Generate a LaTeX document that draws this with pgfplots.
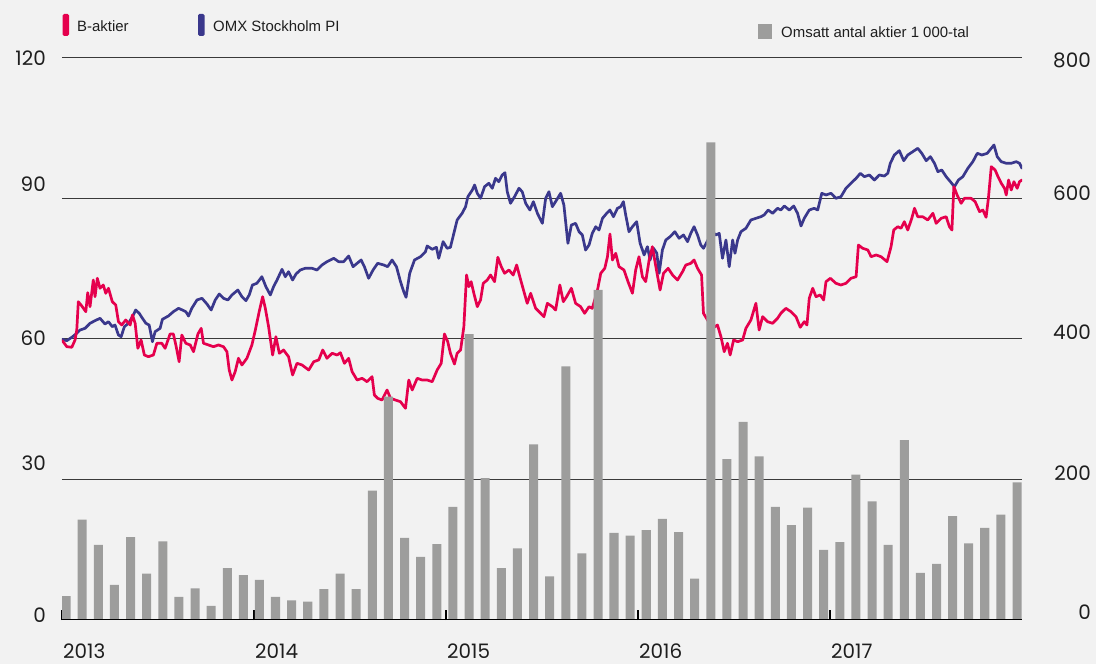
\documentclass[border=0pt]{standalone}
\usepackage{fontspec}
\usepackage{pgfplots}
\usepackage{pgfplotstable}
\pgfplotsset{compat=1.18}
\setmainfont{Liberation Sans}
\newfontfamily\tickfont{Poppins}
\definecolor{bg}{HTML}{F2F2F2}
\definecolor{bred}{HTML}{E5004D}
\definecolor{omx}{HTML}{3A388C}
\definecolor{bargray}{HTML}{9D9D9C}
\definecolor{gridc}{HTML}{3A3A3A}
\definecolor{txt}{HTML}{1E1E1E}

\pgfplotstableread{
x y
2013.002 59.64
2013.025 58.36
2013.051 58.23
2013.068 59.79
2013.077 61.92
2013.085 67.96
2013.103 67.05
2013.124 65.83
2013.134 69.89
2013.146 66.90
2013.163 72.60
2013.172 69.03
2013.184 72.96
2013.198 70.83
2013.215 71.53
2013.228 69.76
2013.242 70.83
2013.262 67.96
2013.280 67.26
2013.294 63.69
2013.311 62.99
2013.332 64.06
2013.355 62.99
2013.367 65.12
2013.381 63.35
2013.395 58.01
2013.412 59.79
2013.429 56.58
2013.450 56.22
2013.476 56.58
2013.494 59.08
2013.520 59.08
2013.537 58.01
2013.563 61.07
2013.580 61.07
2013.593 58.72
2013.610 55.15
2013.624 60.85
2013.645 59.08
2013.668 58.72
2013.685 57.29
2013.708 61.07
2013.725 62.28
2013.737 59.08
2013.763 58.72
2013.789 58.36
2013.815 58.72
2013.841 58.36
2013.859 57.29
2013.871 53.38
2013.885 51.24
2013.902 53.02
2013.919 55.88
2013.937 54.45
2013.963 55.88
2013.989 58.72
2014.007 61.92
2014.027 65.83
2014.045 69.03
2014.059 66.55
2014.076 62.63
2014.097 56.58
2014.114 60.49
2014.132 56.95
2014.154 57.65
2014.180 56.22
2014.201 52.31
2014.224 54.81
2014.250 54.45
2014.285 53.38
2014.311 55.15
2014.337 55.52
2014.358 57.65
2014.380 55.88
2014.407 56.95
2014.433 56.58
2014.450 57.07
2014.471 54.81
2014.493 55.88
2014.511 53.02
2014.537 51.24
2014.563 51.61
2014.589 50.88
2014.615 51.95
2014.627 48.04
2014.644 47.34
2014.667 46.97
2014.693 49.11
2014.711 47.34
2014.737 46.97
2014.763 46.61
2014.789 45.20
2014.806 51.24
2014.824 49.11
2014.850 51.61
2014.876 51.24
2014.902 51.24
2014.928 50.88
2014.954 53.38
2014.975 54.81
2014.992 61.07
2015.009 59.42
2015.023 56.95
2015.044 54.66
2015.058 56.95
2015.076 57.65
2015.093 62.63
2015.107 73.66
2015.119 71.17
2015.131 72.24
2015.145 69.76
2015.163 66.90
2015.180 68.33
2015.194 71.89
2015.215 72.60
2015.232 73.66
2015.253 72.24
2015.270 77.44
2015.288 75.44
2015.305 74.03
2015.328 74.73
2015.350 73.66
2015.368 75.80
2015.389 72.60
2015.406 70.10
2015.423 67.62
2015.441 69.76
2015.467 66.55
2015.493 65.49
2015.510 64.76
2015.528 67.62
2015.554 66.90
2015.571 66.19
2015.593 71.53
2015.611 67.96
2015.628 69.03
2015.653 70.83
2015.675 67.62
2015.701 66.90
2015.722 65.49
2015.745 66.90
2015.762 66.55
2015.789 70.46
2015.806 74.03
2015.827 75.10
2015.841 77.57
2015.854 82.42
2015.867 76.87
2015.884 78.30
2015.901 75.44
2015.927 74.73
2015.948 72.24
2015.971 69.76
2015.988 74.73
2016.005 77.57
2016.023 73.30
2016.040 72.24
2016.058 76.87
2016.075 79.71
2016.093 75.44
2016.115 70.46
2016.133 74.03
2016.157 75.10
2016.180 73.66
2016.206 72.60
2016.232 74.37
2016.249 75.80
2016.275 76.16
2016.292 76.87
2016.310 75.10
2016.331 73.66
2016.341 65.49
2016.388 62.28
2016.414 62.99
2016.432 60.49
2016.449 57.29
2016.466 59.08
2016.480 56.58
2016.498 59.79
2016.519 59.42
2016.545 59.79
2016.562 62.28
2016.588 64.06
2016.614 67.62
2016.631 61.92
2016.649 64.76
2016.675 63.69
2016.701 63.35
2016.727 64.42
2016.744 65.49
2016.770 66.55
2016.797 65.83
2016.823 64.76
2016.845 62.50
2016.866 63.69
2016.880 62.99
2016.892 68.69
2016.910 70.83
2016.927 69.03
2016.949 69.40
2016.967 68.33
2016.979 72.24
2017.002 72.96
2017.031 71.89
2017.057 71.53
2017.083 71.89
2017.109 72.96
2017.136 73.30
2017.148 80.07
2017.170 79.37
2017.197 79.00
2017.214 77.57
2017.240 77.94
2017.266 77.57
2017.297 76.51
2017.318 79.71
2017.332 83.27
2017.353 83.98
2017.370 83.64
2017.387 85.05
2017.405 83.27
2017.426 85.77
2017.440 87.91
2017.457 86.11
2017.483 86.11
2017.509 85.41
2017.536 86.84
2017.553 84.70
2017.579 85.77
2017.605 86.11
2017.622 83.98
2017.635 83.27
2017.645 92.52
2017.662 90.75
2017.683 88.97
2017.700 90.04
2017.735 90.04
2017.756 89.32
2017.779 87.18
2017.796 87.54
2017.813 85.99
2017.825 90.04
2017.840 96.79
2017.860 96.09
2017.875 94.66
2017.892 93.25
2017.909 92.18
2017.918 90.75
2017.930 93.95
2017.944 91.81
2017.958 93.59
2017.975 92.18
2017.987 93.59
2018.000 93.95
}\baktier

\pgfplotstableread{
x y
2013.002 59.94
2013.025 59.64
2013.051 60.36
2013.077 61.22
2013.094 61.92
2013.120 62.28
2013.146 63.35
2013.172 63.91
2013.198 64.42
2013.224 63.20
2013.242 63.69
2013.262 62.63
2013.276 62.99
2013.294 60.85
2013.308 60.49
2013.325 62.63
2013.346 63.35
2013.367 64.76
2013.384 66.19
2013.402 65.49
2013.419 64.42
2013.437 63.35
2013.454 62.99
2013.471 59.42
2013.485 61.56
2013.511 62.28
2013.523 64.20
2013.554 64.91
2013.580 65.83
2013.607 66.55
2013.627 66.19
2013.645 65.83
2013.659 64.91
2013.676 66.55
2013.703 68.33
2013.729 68.69
2013.755 67.47
2013.777 66.19
2013.798 68.33
2013.819 69.61
2013.841 68.69
2013.864 68.33
2013.885 69.40
2013.916 70.46
2013.937 69.03
2013.958 68.18
2013.975 69.40
2013.992 71.53
2014.015 71.89
2014.041 73.30
2014.062 71.17
2014.085 69.40
2014.102 71.17
2014.120 72.60
2014.146 74.88
2014.163 73.30
2014.180 74.37
2014.201 72.60
2014.219 73.88
2014.241 74.73
2014.267 75.10
2014.302 75.10
2014.328 74.73
2014.354 75.80
2014.380 76.51
2014.415 77.23
2014.441 76.51
2014.467 76.51
2014.493 77.72
2014.516 75.44
2014.537 76.16
2014.558 76.87
2014.575 75.44
2014.597 72.96
2014.620 74.73
2014.644 76.16
2014.676 75.80
2014.696 75.44
2014.719 76.87
2014.742 75.44
2014.763 72.24
2014.780 70.10
2014.792 68.90
2014.811 74.03
2014.836 76.87
2014.867 77.57
2014.893 78.64
2014.902 79.86
2014.928 79.15
2014.950 79.58
2014.962 77.23
2014.985 80.78
2015.006 79.37
2015.023 79.58
2015.041 82.57
2015.058 85.41
2015.084 86.84
2015.102 88.25
2015.114 90.38
2015.137 91.81
2015.149 92.88
2015.163 91.11
2015.180 90.04
2015.201 92.52
2015.223 93.25
2015.241 92.18
2015.258 94.31
2015.275 93.59
2015.293 95.02
2015.307 95.51
2015.319 91.45
2015.336 88.97
2015.357 90.38
2015.380 92.18
2015.397 91.45
2015.415 88.97
2015.437 87.54
2015.455 89.32
2015.476 86.84
2015.502 84.70
2015.519 90.04
2015.536 91.45
2015.554 88.25
2015.576 89.68
2015.597 91.11
2015.614 88.61
2015.635 80.43
2015.653 84.34
2015.675 84.70
2015.693 82.91
2015.710 82.21
2015.727 79.00
2015.745 80.07
2015.762 82.57
2015.780 83.98
2015.797 83.27
2015.815 85.77
2015.837 86.84
2015.854 87.54
2015.872 86.11
2015.893 87.91
2015.910 88.25
2015.924 89.32
2015.936 86.48
2015.953 82.91
2015.971 83.98
2015.993 85.05
2016.011 80.43
2016.032 77.94
2016.049 79.71
2016.063 76.87
2016.081 79.37
2016.098 78.30
2016.110 74.03
2016.127 79.00
2016.145 81.14
2016.167 81.84
2016.192 82.91
2016.214 81.50
2016.237 82.21
2016.258 80.78
2016.275 82.57
2016.292 83.98
2016.310 82.21
2016.327 80.07
2016.341 79.37
2016.388 82.91
2016.405 82.21
2016.423 82.57
2016.440 77.23
2016.458 81.14
2016.475 75.44
2016.493 81.14
2016.505 78.30
2016.519 81.14
2016.536 82.91
2016.562 83.64
2016.588 85.41
2016.614 85.77
2016.640 86.11
2016.657 86.48
2016.678 87.54
2016.701 86.84
2016.727 87.91
2016.744 87.54
2016.762 88.40
2016.788 87.54
2016.811 88.40
2016.831 86.84
2016.849 84.13
2016.866 85.77
2016.892 87.54
2016.918 87.91
2016.936 87.54
2016.957 91.11
2016.979 90.75
2017.005 91.11
2017.031 90.04
2017.057 90.38
2017.083 92.18
2017.109 93.25
2017.136 94.31
2017.158 95.38
2017.179 94.66
2017.205 95.02
2017.231 93.95
2017.257 95.02
2017.283 94.80
2017.301 95.38
2017.314 97.52
2017.335 99.29
2017.361 100.21
2017.384 98.07
2017.405 99.29
2017.431 99.99
2017.457 100.72
2017.478 99.65
2017.501 98.07
2017.523 98.93
2017.544 97.52
2017.562 95.72
2017.582 96.09
2017.605 94.66
2017.627 93.59
2017.648 92.52
2017.669 93.95
2017.692 94.66
2017.718 96.45
2017.744 97.86
2017.767 99.65
2017.791 99.29
2017.819 99.65
2017.840 100.72
2017.854 101.42
2017.871 98.93
2017.892 97.86
2017.918 97.52
2017.944 97.52
2017.970 97.86
2017.987 97.52
2018.000 96.45
}\omxpi

\pgfplotstableread{
x y
2013.021 34
2013.105 143
2013.189 107
2013.273 50
2013.357 118
2013.441 66
2013.525 112
2013.609 33
2013.693 45
2013.777 20
2013.861 74
2013.945 64
2014.028 57
2014.112 33
2014.196 28
2014.280 26
2014.364 44
2014.448 66
2014.532 44
2014.616 184
2014.700 318
2014.784 117
2014.868 90
2014.952 108
2015.036 161
2015.120 407
2015.204 202
2015.288 74
2015.372 102
2015.456 250
2015.540 62
2015.624 361
2015.708 95
2015.792 470
2015.875 124
2015.959 120
2016.043 128
2016.127 144
2016.211 125
2016.295 59
2016.379 680
2016.463 229
2016.547 282
2016.631 233
2016.715 161
2016.799 135
2016.883 160
2016.967 100
2017.051 111
2017.135 207
2017.219 169
2017.303 107
2017.387 256
2017.471 67
2017.555 80
2017.639 148
2017.722 109
2017.806 131
2017.890 150
2017.974 196
}\volume

\begin{document}
\begin{tikzpicture}
\fill[bg] (-62bp,-44bp) rectangle (1034bp,620bp);
% lines axis (left scale)
\begin{axis}[
  at={(0,0)}, anchor=south west, scale only axis,
  width=960bp, height=562bp,
  xmin=2013, xmax=2018, ymin=0, ymax=120,
  axis line style={draw=none},
  tick align=inside,
  xtick pos=bottom,
  xtick={2013,2014,2015,2016,2017},
  xticklabels={2013,2014,2015,2016,2017},
  x tick style={draw=black, line width=1.2bp},
  major tick length=10bp,
  xticklabel style={font=\tickfont\fontsize{20}{20}\selectfont, text=txt, anchor=base west, inner sep=0pt, yshift=-38bp, xshift=1bp},
  ytick pos=left,
  ytick={1.07,33.52,60.21,93.1,120},
  yticklabels={0,30,60,90,120},
  y tick style={draw=none},
  yticklabel style={font=\tickfont\fontsize{20}{20}\selectfont, text=txt, anchor=east, inner sep=0pt, xshift=-16bp},
  extra y ticks={30,60,90,120},
  extra y tick labels={},
  extra y tick style={grid=major, major grid style={draw=gridc, line width=1bp}, y tick style={draw=none}},
]
\addplot[omx, line width=2.7bp, line join=round, line cap=round] table[x=x,y=y] {\omxpi};
\addplot[bred, line width=2.7bp, line join=round, line cap=round] table[x=x,y=y] {\baktier};
\end{axis}
% volume axis (right scale)
\begin{axis}[
  at={(0,0)}, anchor=south west, scale only axis,
  width=960bp, height=562bp,
  xmin=2013, xmax=2018, ymin=0, ymax=800,
  axis line style={draw=none},
  tick align=inside,
  xtick=\empty,
  ytick pos=right,
  ytick={11.8,209.7,410.4,607.8,796.2},
  yticklabels={0,200,400,600,800},
  y tick style={draw=none},
  yticklabel style={font=\tickfont\fontsize{20}{20}\selectfont, text=txt, anchor=east, inner sep=0pt, xshift=69bp},
]
\addplot[ybar, bar width=0.047, bar shift=0pt, fill=bargray, draw=none] table[x=x,y=y] {\volume};
\draw[black, line width=1.3bp] (axis cs:2013,0) -- (axis cs:2018,0);
\end{axis}
% legend
\fill[bred, rounded corners=1.5bp] (0.7bp,584bp) rectangle (7bp,606bp);
\node[anchor=base west, inner sep=0pt, font=\fontsize{15}{15}\selectfont, text=txt] at (15bp,588.3bp) {B-aktier};
\fill[omx, rounded corners=1.5bp] (136bp,584bp) rectangle (142.7bp,606bp);
\node[anchor=base west, inner sep=0pt, font=\fontsize{15}{15}\selectfont, text=txt] at (151bp,588.3bp) {OMX Stockholm PI};
\fill[bargray] (695.7bp,581bp) rectangle (710bp,596bp);
\node[anchor=base west, inner sep=0pt, font=\fontsize{15}{15}\selectfont, text=txt] at (719bp,582.7bp) {Omsatt antal aktier 1 000-tal};
\pgfresetboundingbox
\useasboundingbox (-62bp,-44bp) rectangle (1034bp,620bp);
\end{tikzpicture}
\end{document}
